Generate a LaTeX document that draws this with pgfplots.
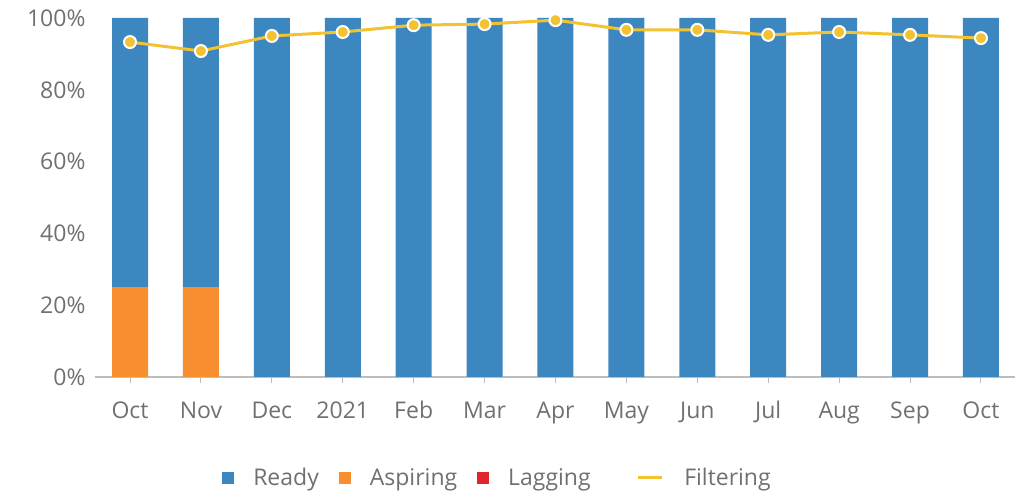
\documentclass[border=0pt]{standalone}
\usepackage{pgfplots}
\pgfplotsset{compat=1.18}
\usepackage{fontspec}
\setmainfont{Open Sans}
\definecolor{readyc}{HTML}{3D87C1}
\definecolor{aspc}{HTML}{F78F30}
\definecolor{lagc}{HTML}{E0262B}
\definecolor{filc}{HTML}{F2C230}
\definecolor{txtc}{HTML}{707070}
\definecolor{axc}{HTML}{BDBDBD}
\begin{document}
\begin{tikzpicture}[x=1pt,y=1pt]
\path[use as bounding box] (0,0) rectangle (1015,492);
\begin{axis}[
  at={(95pt,115pt)}, anchor=south west,
  scale only axis, width=920pt, height=359pt,
  xmin=-0.4937, xmax=12.48, ymin=0, ymax=100,
  clip=false,
  ybar stacked, bar width=36pt,
  axis y line=none,
  axis x line*=bottom,
  x axis line style={axc, line width=1.2pt, -},
  xtick={0,...,12},
  xticklabels={Oct,Nov,Dec,2021,Feb,Mar,Apr,May,Jun,Jul,Aug,Sep,Oct},
  xtick style={axc, line width=1pt},
  tick align=outside, major tick length=6pt,
  typeset ticklabels with strut,
  xticklabel style={font=\fontsize{23}{26}\selectfont, text=txtc, yshift=-14pt},
  reverse legend,
  legend style={draw=none, fill=none, at={(0.1381,-0.2813)}, anchor=west,
    legend columns=3, font=\fontsize{23}{26}\selectfont, text=txtc, inner sep=0pt,
    /tikz/every odd column/.append style={column sep=17pt},
    /tikz/every even column/.append style={column sep=18pt},
    legend cell align=left},
]
\addplot[fill=lagc, draw=none, legend image code/.code={\fill[lagc] (0pt,-6pt) rectangle (12pt,6pt);}] coordinates {(0,0) (1,0) (2,0) (3,0) (4,0) (5,0) (6,0) (7,0) (8,0) (9,0) (10,0) (11,0) (12,0)};
\addlegendentry{Lagging}
\addplot[fill=aspc, draw=none, legend image code/.code={\fill[aspc] (0pt,-6pt) rectangle (12pt,6pt);}] coordinates {(0,25) (1,25) (2,0) (3,0) (4,0) (5,0) (6,0) (7,0) (8,0) (9,0) (10,0) (11,0) (12,0)};
\addlegendentry{Aspiring}
\addplot[fill=readyc, draw=none, legend image code/.code={\fill[readyc] (0pt,-6pt) rectangle (12pt,6pt);}] coordinates {(0,75) (1,75) (2,100) (3,100) (4,100) (5,100) (6,100) (7,100) (8,100) (9,100) (10,100) (11,100) (12,100)};
\addlegendentry{Ready}
\end{axis}
\begin{axis}[
  at={(95pt,115pt)}, anchor=south west,
  scale only axis, width=920pt, height=359pt,
  xmin=-0.4937, xmax=12.48, ymin=0, ymax=100,
  clip=false,
  axis x line=none,
  axis y line*=left, y axis line style={draw=none},
  ytick={0,20,40,60,80,100},
  yticklabels={0\%,20\%,40\%,60\%,80\%,100\%},
  ytick style={draw=none},
  yticklabel style={font=\fontsize{23}{26}\selectfont, text=txtc, xshift=-6pt},
  legend style={draw=none, fill=none, at={(0.5881,-0.2813)}, anchor=west, inner sep=0pt,
    font=\fontsize{23}{26}\selectfont, text=txtc,
    /tikz/every odd column/.append style={column sep=19pt}},
]
\addplot[filc, line width=3pt, mark=*, mark size=6pt,
  mark options={fill=filc, draw=white, line width=2pt},
  legend image code/.code={\draw[filc, line width=3pt] (0pt,0pt) -- (24pt,0pt);}]
  coordinates {(0,93.3) (1,90.8) (2,95.0) (3,96.1) (4,98.0) (5,98.3) (6,99.4) (7,96.7) (8,96.7) (9,95.3) (10,96.1) (11,95.3) (12,94.4)};
\addlegendentry{Filtering}
\end{axis}
\end{tikzpicture}
\end{document}
